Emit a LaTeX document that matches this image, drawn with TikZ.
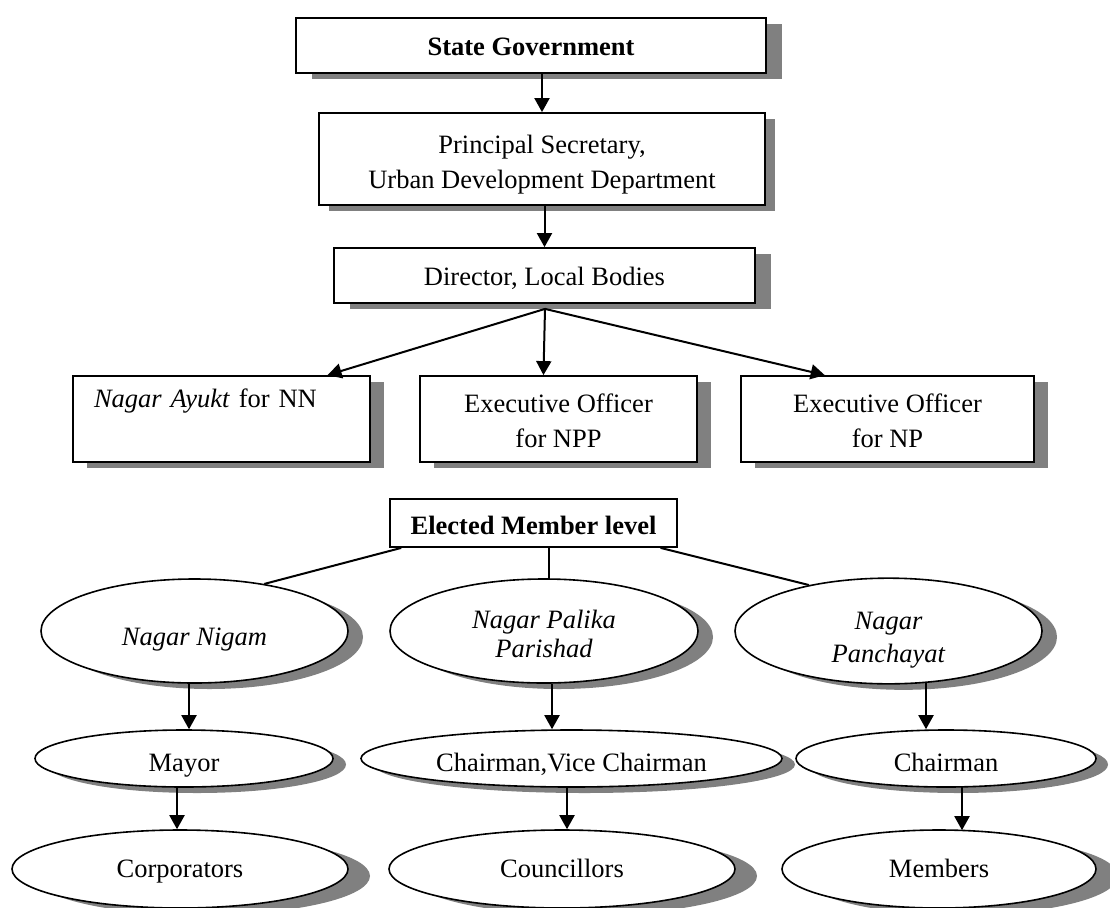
\documentclass[tikz,border=0pt]{standalone}
\usepackage{fontspec}
\setmainfont{Liberation Serif}
\usetikzlibrary{arrows.meta,shapes.geometric,shadows,calc}
\newcommand\lift[1]{\rule{0pt}{#1pt}}
\begin{document}
\begin{tikzpicture}[x=1pt,y=-1pt,
  font=\fontsize{26.5pt}{35pt}\selectfont,
  boxshape/.style={draw, line width=1.8pt, fill=white, rectangle, inner sep=0pt, align=center},
  shad/.style 2 args={drop shadow={shadow xshift=#1pt, shadow yshift=-#2pt, fill=black!50, opacity=1}},
  ell/.style={draw, line width=1.6pt, fill=white, ellipse, inner sep=0pt, align=center},
  tx/.style={text height=#1pt, text depth=0pt},
  arr/.style={line width=2pt, -{Triangle[length=14pt,width=15pt]}},
  conn/.style={line width=2pt}
]
\fill[white] (0,0) rectangle (1110,907);
\useasboundingbox (0,0) rectangle (1110,907);

% top boxes
\node[boxshape, shad={16}{6}, tx=20, minimum width=470pt, minimum height=55pt] (sg) at (531,45.5) {\textbf{State Government}};
\node[boxshape, shad={10}{6}, minimum width=446pt, minimum height=92pt] (ps) at (542,159) {\lift{30}Principal Secretary,\\Urban Development Department};
\node[boxshape, shad={16}{6}, tx=20.5, minimum width=421pt, minimum height=55pt] (dir) at (544.5,275.5) {Director, Local Bodies};

\node[boxshape, shad={14}{6}, minimum width=297pt, minimum height=86pt, align=left, text width=255pt] (nn) at (221.5,419) {\lift{22.5}\textit{Nagar Ayukt} for NN\\\strut};
\node[boxshape, shad={14}{6}, minimum width=277pt, minimum height=86pt] (npp) at (558.5,419) {\lift{22.5}Executive Officer\\for NPP};
\node[boxshape, shad={14}{6}, minimum width=293pt, minimum height=86pt] (np) at (887.5,419) {\lift{22.5}Executive Officer\\for NP};

\node[boxshape, tx=23, minimum width=287pt, minimum height=48pt] (el) at (533.5,523) {\textbf{Elected Member level}};

\coordinate (fan) at ($(dir.south)+(0.5,5)$);
\draw[arr] (sg.south -| ps.north) -- (ps.north);
\draw[arr] (ps.south -| dir.north) -- (dir.north);
\draw[arr] (fan) -- ($(nn.north west)!0.855!(nn.north east)$);
\draw[arr] (fan) -- ($(npp.north west)!0.446!(npp.north east)$);
\draw[arr] (fan) -- ($(np.north west)!0.287!(np.north east)$);

% ellipses row 1
\node[ell, shad={15}{6}, tx=29, minimum width=307pt, minimum height=104pt] (nnE) at (194.5,631) {\textit{Nagar Nigam}};
\node[ell, shad={15}{6}, minimum width=308pt, minimum height=104pt, font=\fontsize{26.5pt}{29pt}\selectfont] (nppE) at (544,631) {\lift{24.5}\textit{Nagar Palika}\\\textit{Parishad}};
\node[ell, shad={15}{6}, minimum width=307pt, minimum height=104pt, font=\fontsize{26.5pt}{33pt}\selectfont] (npE) at (888.5,631) {\lift{36}\textit{Nagar}\\\textit{Panchayat}};

% row 2
\node[ell, shad={13}{6}, tx=26, minimum width=298pt, minimum height=57pt] (mayor) at (184,758.5) {Mayor};
\node[ell, shad={13}{6}, tx=26, minimum width=421pt, minimum height=57pt] (cvc) at (571.5,758.5) {Chairman,Vice Chairman};
\node[ell, shad={12}{6}, tx=26, minimum width=300pt, minimum height=57pt] (ch) at (946,758.5) {Chairman};

% row 3
\node[ell, shad={22}{7}, tx=17, minimum width=336pt, minimum height=78pt] (corp) at (180,869) {Corporators};
\node[ell, shad={22}{7}, tx=17, minimum width=346pt, minimum height=78pt] (coun) at (562,869) {Councillors};
\node[ell, shad={22}{7}, tx=17, minimum width=314pt, minimum height=78pt] (mem) at (939,869) {Members};

% connectors from elected box
\draw[conn] ($(el.south west)!0.042!(el.south east)$) -- (nnE.34);
\coordinate (c2) at ($(el.south west)!0.554!(el.south east)$);
\draw[conn] (c2) -- (c2 |- nppE.north);
\draw[conn] ($(el.south west)!0.94!(el.south east)$) -- (npE.150);

% arrows between ellipses
\draw[arr] ($(nnE.south)+(-5.5,0)$) -- ($(mayor.north)+(5,0)$);
\draw[arr] ($(nppE.south)+(8,0)$) -- ($(cvc.north)+(-19.5,0)$);
\draw[arr] ($(npE.south)+(37.5,-1.5)$) -- ($(ch.north)+(-20,0)$);
\draw[arr] ($(mayor.south)+(-7,0)$) -- ($(corp.north)+(-3,0)$);
\draw[arr] ($(cvc.south)+(-4.5,0)$) -- ($(coun.north)+(5,0)$);
\draw[arr] ($(ch.south)+(16,-0.5)$) -- ($(mem.north)+(23,1)$);
\end{tikzpicture}
\end{document}
